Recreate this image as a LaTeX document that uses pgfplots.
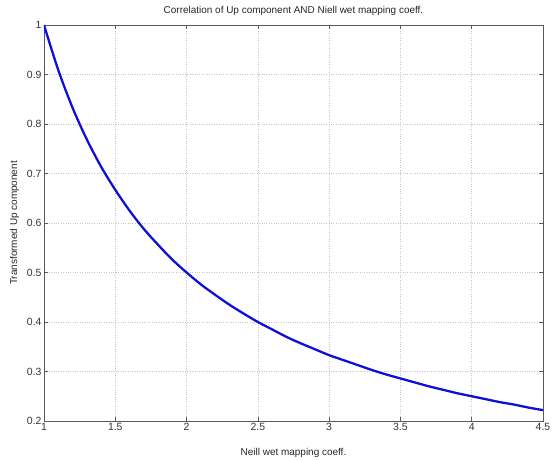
\documentclass[border=0pt]{standalone}
\usepackage{pgfplots}
\pgfplotsset{compat=1.18}
\usepackage{fontspec}
\setmainfont{Liberation Sans}
\begin{document}
\begin{tikzpicture}[x=1bp,y=1bp]
\useasboundingbox (-44,-39) rectangle (514,421);
\begin{axis}[
  at={(0,0)}, anchor=south west,
  scale only axis, width=499bp, height=396bp,
  xmin=1, xmax=4.5, ymin=0.2, ymax=1,
  xtick={1,1.5,...,4.5}, ytick={0.2,0.3,...,1.0},
  xticklabels={1,1.5,2,2.5,3,3.5,4,4.5},
  yticklabels={0.2,0.3,0.4,0.5,0.6,0.7,0.8,0.9,1},
  tick align=inside, major tick length=4bp,
  tick style={gray!70!black, line width=0.5pt},
  axis line style={gray!70!black, line width=0.7pt},
  grid=major, grid style={dotted, gray!45, line width=0.5pt},
  tick label style={font=\fontsize{10.5}{11}\selectfont, text=black!80},
  label style={font=\fontsize{10}{11}\selectfont, text=black!85},
  title style={font=\fontsize{10}{11}\selectfont, text=black!85, yshift=0bp},
  /pgf/number format/assume math mode=true,
  xticklabel style={yshift=1bp},
  yticklabel style={xshift=1bp},
  title={Correlation of Up component AND Niell wet mapping coeff.},
  xlabel={Neill wet mapping coeff.},
  ylabel={Transformed Up component},
  xlabel style={yshift=-11bp},
  ylabel style={yshift=1bp},
]
\addplot[color={rgb,255:red,15;green,15;blue,215}, line width=2.3pt, smooth] coordinates {
(1.0,1.000) (1.1,0.909) (1.2,0.833) (1.3,0.769) (1.4,0.714) (1.5,0.667)
(1.6,0.625) (1.7,0.588) (1.8,0.556) (1.9,0.526) (2.0,0.500) (2.1,0.476)
(2.2,0.455) (2.3,0.435) (2.4,0.417) (2.5,0.400) (2.6,0.385) (2.7,0.370)
(2.8,0.357) (2.9,0.345) (3.0,0.333) (3.1,0.323) (3.2,0.313) (3.3,0.303)
(3.4,0.294) (3.5,0.286) (3.6,0.278) (3.7,0.270) (3.8,0.263) (3.9,0.256)
(4.0,0.250) (4.1,0.244) (4.2,0.238) (4.3,0.233) (4.4,0.227) (4.5,0.222)
};
\end{axis}
\end{tikzpicture}
\end{document}
